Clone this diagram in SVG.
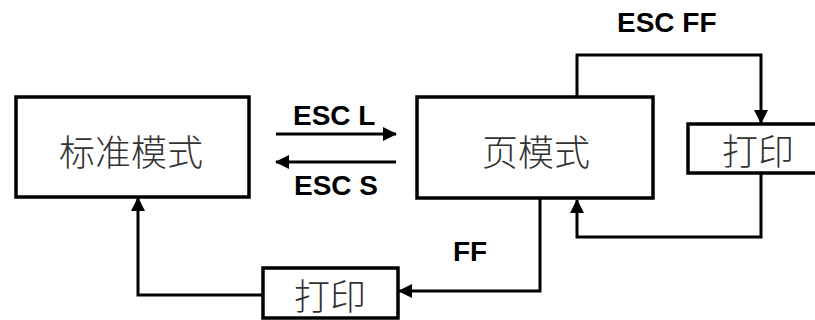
<svg xmlns="http://www.w3.org/2000/svg" width="815" height="320" viewBox="0 0 815 320">
<style>
.box{fill:#fff;stroke:#000;stroke-width:3.5}
.cn{font-family:"Noto Sans CJK SC","Noto Sans",sans-serif;font-size:36px;font-weight:300;fill:#333;text-anchor:middle;dominant-baseline:central}
.lb{font-family:"Liberation Sans",Arial,sans-serif;font-size:28px;font-weight:bold;fill:#000}
.ln{fill:none;stroke:#000;stroke-width:3}
</style>
<defs>
<marker id="ah" viewBox="0 0 14 14" refX="13" refY="7" markerWidth="14" markerHeight="14" markerUnits="userSpaceOnUse" orient="auto">
<path d="M0,0 L14,7 L0,14 z" fill="#000"/>
</marker>
</defs>
<rect width="815" height="320" fill="#fff"/>
<g id="connectors">
<line class="ln" x1="276" y1="134" x2="396" y2="134" marker-end="url(#ah)"/>
<line class="ln" x1="396" y1="162" x2="276" y2="162" marker-end="url(#ah)"/>
<polyline class="ln" points="577,97 577,55 761,55 761,123" marker-end="url(#ah)"/>
<polyline class="ln" points="761,173 761,237 577,237 577,200" marker-end="url(#ah)"/>
<polyline class="ln" points="540,198 540,291 399,291" marker-end="url(#ah)"/>
<polyline class="ln" points="263,295 138,295 138,198" marker-end="url(#ah)"/>
<text class="lb" x="293" y="125">ESC L</text>
<text class="lb" x="294" y="195">ESC S</text>
<text class="lb" x="617" y="32">ESC FF</text>
<text class="lb" x="453" y="261">FF</text>
</g>
<g id="standard">
<rect class="box" x="16" y="97" width="233" height="100"/>
<text class="cn" x="131" y="150">标准模式</text>
</g>
<g id="page">
<rect class="box" x="417" y="97" width="236" height="101"/>
<text class="cn" x="536" y="150">页模式</text>
</g>
<g id="print1">
<rect class="box" x="688" y="124" width="140" height="49"/>
<text class="cn" x="758" y="149">打印</text>
</g>
<g id="print2">
<rect class="box" x="263" y="268" width="135" height="50"/>
<text class="cn" x="330" y="294">打印</text>
</g>
</svg>
